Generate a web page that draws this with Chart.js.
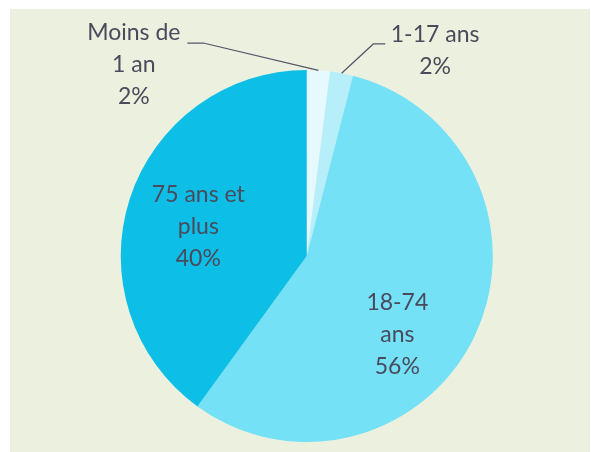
<!DOCTYPE html>
<html>
<head>
<meta charset="utf-8">
<script src="https://cdn.jsdelivr.net/npm/chart.js@4/dist/chart.umd.min.js"></script>
<style>
  html, body { margin: 0; padding: 0; background: #ffffff; }
  #wrap { position: relative; width: 591px; height: 452px; }
  canvas { display: block; }
</style>
</head>
<body>
<div id="wrap"><canvas id="c" width="591" height="452"></canvas></div>
<script>
// ---- Data ----
const categories = ["Moins de 1 an", "1-17 ans", "18-74 ans", "75 ans et plus"];
const labelLines = [["Moins de", "1 an"], ["1-17 ans"], ["18-74", "ans"], ["75 ans et", "plus"]];
const shares = [2, 2, 56, 40];

// ---- Styles / layout ----
const sliceColors = ["#E6F9FE", "#B6EEFA", "#74E1F7", "#0DBFE7"];
const bgColor = "#EBF1DE";
const textColor = "#4A4A5C";
const lineColor = "#55556A";
// label positions relative to pie center, in units of radius
const labelPos = [
  { x: -0.930, y: -1.027, elbow: [-0.556, -1.145], end: [-0.642, -1.145] },
  { x: 0.690, y: -1.102, elbow: [0.358, -1.140], end: [0.422, -1.140] },
  { x: 0.487, y: 0.422 },
  { x: -0.583, y: -0.159 }
];

const bgPlugin = {
  id: 'bg',
  beforeDraw(chart) {
    const ctx = chart.ctx;
    ctx.save();
    ctx.fillStyle = '#ffffff';
    ctx.fillRect(0, 0, chart.width, chart.height);
    ctx.fillStyle = bgColor;
    ctx.fillRect(10, 9, 580, 443);
    ctx.restore();
  }
};

const labelPlugin = {
  id: 'sliceLabels',
  afterDatasetsDraw(chart) {
    const ctx = chart.ctx;
    const meta = chart.getDatasetMeta(0);
    const total = shares.reduce((a, b) => a + b, 0);
    ctx.save();
    ctx.font = '23px Lato, "Open Sans", sans-serif';
    ctx.fillStyle = textColor;
    ctx.textAlign = 'center';
    ctx.textBaseline = 'middle';
    meta.data.forEach((arc, i) => {
      const p = arc.getProps(['x', 'y', 'outerRadius', 'startAngle', 'endAngle'], true);
      const r = p.outerRadius;
      const pos = labelPos[i];
      if (pos.elbow) {
        const mid = (p.startAngle + p.endAngle) / 2;
        const sx = p.x + Math.cos(mid) * r;
        const sy = p.y + Math.sin(mid) * r;
        ctx.strokeStyle = lineColor;
        ctx.lineWidth = 1.2;
        ctx.beginPath();
        ctx.moveTo(sx, sy);
        ctx.lineTo(p.x + pos.elbow[0] * r, p.y + pos.elbow[1] * r);
        ctx.lineTo(p.x + pos.end[0] * r, p.y + pos.end[1] * r);
        ctx.stroke();
      }
      const lines = labelLines[i].concat([Math.round(shares[i] / total * 100) + '%']);
      const lh = 32;
      const cx = p.x + pos.x * r;
      const cy = p.y + pos.y * r;
      lines.forEach((t, k) => {
        ctx.fillText(t, cx, cy + (k - (lines.length - 1) / 2) * lh);
      });
    });
    ctx.restore();
  }
};

new Chart(document.getElementById('c'), {
  type: 'pie',
  data: {
    labels: categories,
    datasets: [{
      data: shares,
      backgroundColor: sliceColors,
      borderWidth: 0
    }]
  },
  options: {
    responsive: false,
    animation: false,
    layout: { padding: { top: 70, bottom: 10, left: 120.5, right: 98 } },
    plugins: { legend: { display: false }, tooltip: { enabled: false } }
  },
  plugins: [bgPlugin, labelPlugin]
});
</script>
</body>
</html>
